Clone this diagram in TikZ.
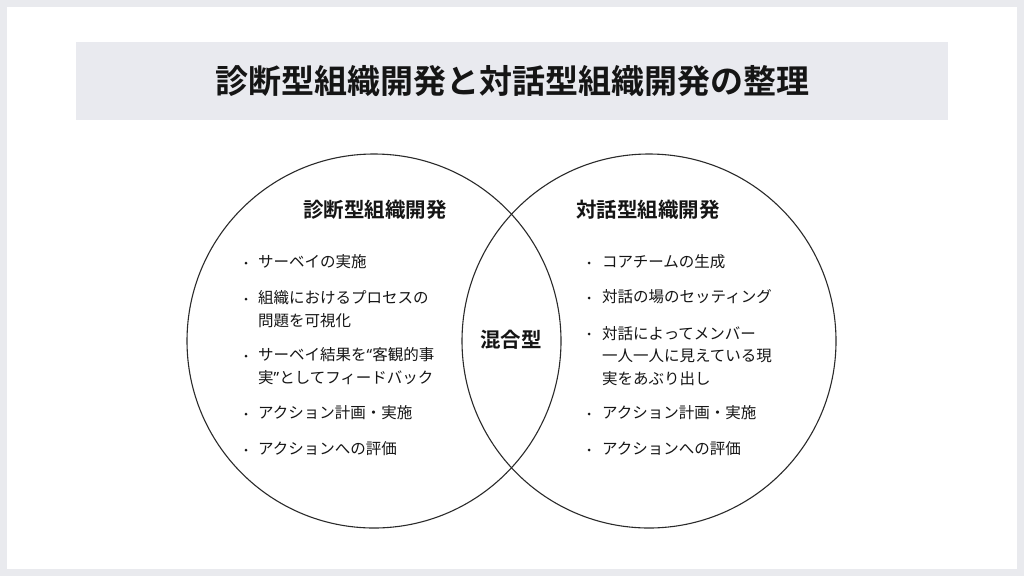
\documentclass[tikz,border=0pt]{standalone}
\usepackage{fontspec}
\setmainfont{Noto Sans CJK JP}[BoldFont={Noto Sans CJK JP Bold}]
\newfontfamily\latinq{Noto Sans}
\definecolor{bgout}{HTML}{E9EAEE}
\definecolor{barbg}{HTML}{E9EAEF}
\definecolor{ink}{HTML}{151515}
\definecolor{lineink}{HTML}{2A2A2A}
\tikzset{
  ttl/.style={font=\bfseries\fontsize{33}{38}\selectfont, text=ink, inner sep=0pt},
  head/.style={font=\bfseries\fontsize{20.5}{24}\selectfont, text=ink, inner sep=0pt},
  itm/.style={font=\fontsize{15.5}{22.5}\selectfont, text=ink, inner sep=0pt, align=left, anchor=west},
  bul/.style={circle, fill=ink, minimum size=3pt, inner sep=0pt},
  venn/.style={circle, draw=lineink, line width=1.1pt, minimum size=374pt, inner sep=0pt},
}
\begin{document}
\begin{tikzpicture}[x=1pt,y=-1pt]
\useasboundingbox (0,0) rectangle (1024,576);
\fill[bgout] (0,0) rectangle (1024,576);
\fill[white] (7,7) rectangle (1017,569);
\node[fill=barbg, minimum width=872pt, minimum height=78pt, inner sep=0pt] (bar) at (512,81) {};
\node[ttl] (title) at (bar.center) {診断型組織開発と対話型組織開発の整理};
\node[venn] (L) at (374,341) {};
\node[venn] (R) at (649,341) {};
\node[head] (lh) at (375,210) {診断型組織開発};
\node[head] (rh) at (648,210) {対話型組織開発};
\node[head] (mix) at (511,340) {混合型};
% left list
\node[bul] (lb1) at (246,263) {};
\node[itm] (l1) at (258,262) {サーベイの実施};
\node[bul] (lb2) at (246,299) {};
\node[itm] (l2) at (258,309) {組織におけるプロセスの\\問題を可視化};
\node[bul] (lb3) at (246,356) {};
\node[itm] (l3) at (258,366) {サーベイ結果を{\latinq “}客観的事\\実{\latinq ”}としてフィードバック};
\node[bul] (lb4) at (246,414) {};
\node[itm] (l4) at (258,413) {アクション計画・実施};
\node[bul] (lb5) at (246,450) {};
\node[itm] (l5) at (258,449) {アクションへの評価};
% right list
\node[bul] (rb1) at (589,263) {};
\node[itm] (r1) at (602,262) {コアチームの生成};
\node[bul] (rb2) at (589,298) {};
\node[itm] (r2) at (602,297) {対話の場のセッティング};
\node[bul] (rb3) at (589,334) {};
\node[itm] (r3) at (602,356) {対話によってメンバー\\一人一人に見えている現\\実をあぶり出し};
\node[bul] (rb4) at (589,414) {};
\node[itm] (r4) at (602,413) {アクション計画・実施};
\node[bul] (rb5) at (589,450) {};
\node[itm] (r5) at (602,449) {アクションへの評価};
\end{tikzpicture}
\end{document}
